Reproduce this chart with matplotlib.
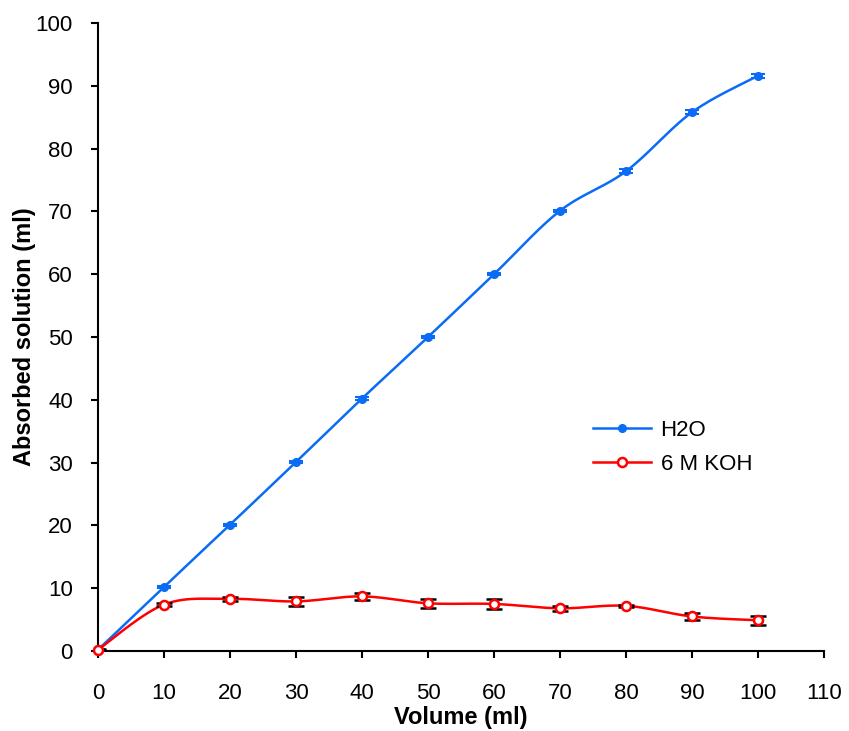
import numpy as np
import matplotlib.pyplot as plt
from matplotlib.lines import Line2D

plt.rcParams['font.family'] = ['Liberation Sans', 'DejaVu Sans']

# Дані
volume = [0, 10, 20, 30, 40, 50, 60, 70, 80, 90, 100]
h2o = [0.2, 10.2, 20.1, 30.1, 40.2, 50.0, 60.0, 70.1, 76.4, 85.8, 91.6]
h2o_err = [0.2, 0.2, 0.2, 0.2, 0.2, 0.2, 0.2, 0.2, 0.3, 0.3, 0.3]
koh = [0.2, 7.4, 8.3, 7.9, 8.7, 7.6, 7.5, 6.8, 7.2, 5.5, 4.9]
koh_err = [0.1, 0.3, 0.3, 0.7, 0.6, 0.7, 0.8, 0.4, 0.2, 0.6, 0.7]


def smooth(x, y, n=30):
    # Згладжена лінія як у Excel (кубічні криві Безьє)
    x = np.asarray(x, float)
    y = np.asarray(y, float)
    xs, ys = [], []
    for i in range(len(x) - 1):
        p0 = np.array([x[max(i - 1, 0)], y[max(i - 1, 0)]])
        p1 = np.array([x[i], y[i]])
        p2 = np.array([x[i + 1], y[i + 1]])
        p3 = np.array([x[min(i + 2, len(x) - 1)], y[min(i + 2, len(x) - 1)]])
        c1 = p1 + (p2 - p0) / 6
        c2 = p2 - (p3 - p1) / 6
        t = np.linspace(0, 1, n)[:, None]
        pts = ((1 - t) ** 3 * p1 + 3 * (1 - t) ** 2 * t * c1
               + 3 * (1 - t) * t ** 2 * c2 + t ** 3 * p2)
        xs.extend(pts[:, 0])
        ys.extend(pts[:, 1])
    return xs, ys


blue = '#0a6cf5'
red = '#ff0000'

fig = plt.figure(figsize=(8.49, 7.31), dpi=100)
ax = fig.add_axes([0.1154, 0.1094, 0.8552, 0.8591])

sx, sy = smooth(volume, h2o)
ax.plot(sx, sy, color=blue, lw=1.8, zorder=2)
ax.errorbar(volume, h2o, yerr=h2o_err, fmt='none', ecolor=blue,
            elinewidth=1.5, capsize=5, capthick=1.5, zorder=3)
ax.plot(volume, h2o, 'o', color=blue, ms=5.5, zorder=4, clip_on=False)

sx, sy = smooth(volume, koh)
ax.plot(sx, sy, color=red, lw=1.8, zorder=2)
ax.errorbar(volume, koh, yerr=koh_err, fmt='none', ecolor='black',
            elinewidth=1.5, capsize=6, capthick=1.8, zorder=3)
ax.plot(volume, koh, 'o', color=red, mfc='white', mew=1.8, ms=6.5,
        zorder=5, clip_on=False)

ax.set_xlim(0, 110)
ax.set_ylim(0, 100)
ax.set_xticks(range(0, 111, 10))
ax.set_yticks(range(0, 101, 10))
ax.spines['top'].set_visible(False)
ax.spines['right'].set_visible(False)
for s in ['left', 'bottom']:
    ax.spines[s].set_linewidth(1.5)
ax.tick_params(direction='out', length=5, width=1.5, labelsize=16)
ax.tick_params(axis='x', pad=18)
ax.tick_params(axis='y', pad=13)
ax.set_xlabel('Volume (ml)', fontsize=17, fontweight='bold')
ax.set_ylabel('Absorbed solution (ml)', fontsize=17, fontweight='bold')
ax.xaxis.set_label_coords(0.5, -0.088)
ax.yaxis.set_label_coords(-0.086, 0.5)

handles = [
    Line2D([], [], color=blue, lw=1.8, marker='o', ms=5.5),
    Line2D([], [], color=red, lw=1.8, marker='o', mfc='white', mew=1.8, ms=6.5),
]
ax.legend(handles, ['H2O', '6 M KOH'], frameon=False, fontsize=16,
          loc='upper left', bbox_to_anchor=(0.654, 0.40), handlelength=2.6,
          handletextpad=0.45, labelspacing=0.6)

fig.savefig('out.png', dpi=100)
